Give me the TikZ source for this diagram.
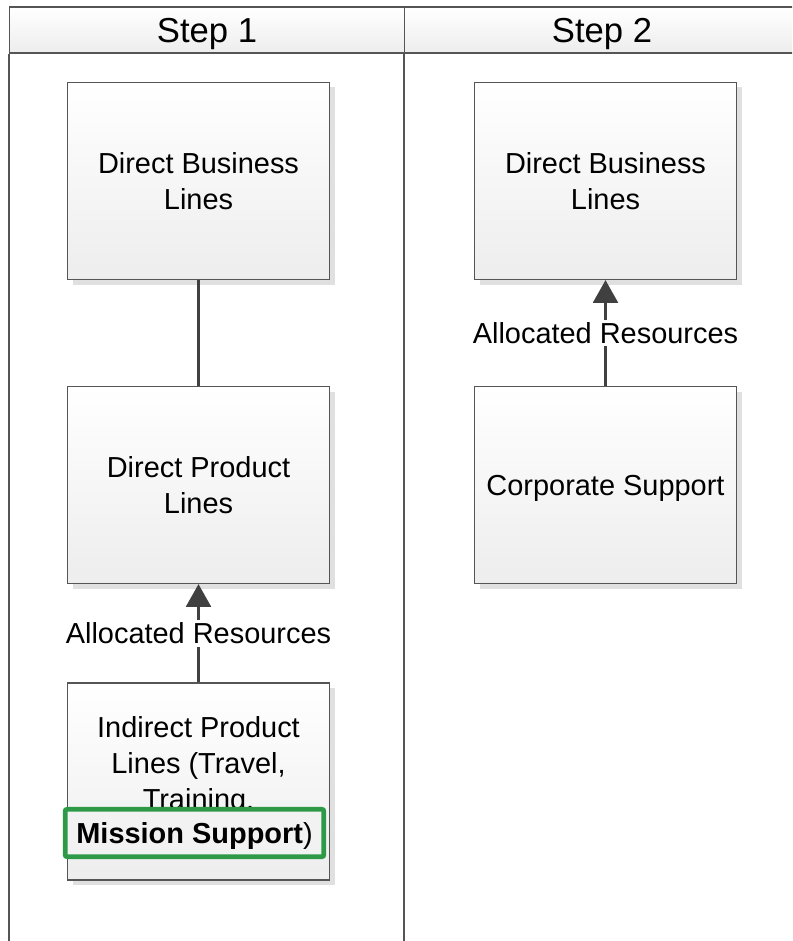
\documentclass[tikz,border=0pt]{standalone}
\usepackage{fontspec}
\setmainfont{Liberation Sans}
\usetikzlibrary{arrows.meta,shadows}
\definecolor{framegray}{RGB}{85,85,85}
\definecolor{linkgray}{RGB}{64,64,64}
\definecolor{missiongreen}{RGB}{46,154,71}
\begin{document}
\begin{tikzpicture}[x=0.75pt, y=-0.75pt,
        lanehead/.style={draw=framegray, line width=0.8pt, top color=white, bottom color=black!7,
            minimum width=296.25pt, minimum height=34.5pt, inner sep=0pt, text depth=0pt,
            font=\fontsize{26}{31}\selectfont},
        procbox/.style={draw=framegray, line width=0.9pt, top color=white, bottom color=black!7,
            minimum width=196.5pt, minimum height=147.75pt, align=center,
            font=\fontsize{21.7}{26.5}\selectfont,
            drop shadow={shadow xshift=3.75pt, shadow yshift=-3.75pt, fill=black!12, opacity=1}},
        boxtext/.style={align=center, font=\fontsize{21.7}{27}\selectfont},
        flow/.style={draw=linkgray, line width=2.25pt},
        flowlabel/.style={fill=white, inner sep=2pt, font=\fontsize{21.7}{26.5}\selectfont}]
        \useasboundingbox (0, 0) rectangle (792, 941);
        \clip (0, 0) rectangle (792, 941);

        \node[lanehead] (step1) at (207, 30) {Step 1};
        \node[lanehead] (step2) at (602, 30) {Step 2};
        \draw[framegray, line width=0.8pt] (step1.south west) -- ++(0, 900);
        \draw[framegray, line width=0.8pt] (step2.south west) -- ++(0, 900);
        \draw[framegray, line width=0.8pt] (step2.south east) -- ++(0, 900);

        \node[procbox] (dbl1) at (198.5, 181) {Direct Business\\Lines};
        \node[procbox] (dpl) at (198.5, 485) {Direct Product\\Lines};
        \node[procbox] (ipl) at (198.5, 781.5) {};
        \node[boxtext] (ipltext) at (198.5, 766.5) {Indirect Product\\Lines (Travel,\\Training,};
        \node[draw=missiongreen, line width=3.6pt, rounded corners=1.5pt, fill=black!5,
            minimum width=194pt, minimum height=35.5pt, inner sep=0pt, text height=15.75pt, text depth=0pt,
            font=\fontsize{21.7}{26.5}\selectfont] (mission) at (194.5, 833) {\textbf{Mission Support})};

        \node[procbox] (dbl2) at (605.5, 181) {Direct Business\\Lines};
        \node[procbox, text height=15.75pt, text depth=0pt] (corp) at (605.5, 485) {Corporate Support};

        \draw[flow] (dbl1) -- (dpl);
        \draw[flow, -{Triangle[length=17pt, width=18.5pt]}] (ipl) -- node[flowlabel] {Allocated Resources} (dpl);
        \draw[flow, -{Triangle[length=17pt, width=18.5pt]}] (corp) -- node[flowlabel] {Allocated Resources} (dbl2);
    \end{tikzpicture}
\end{document}
